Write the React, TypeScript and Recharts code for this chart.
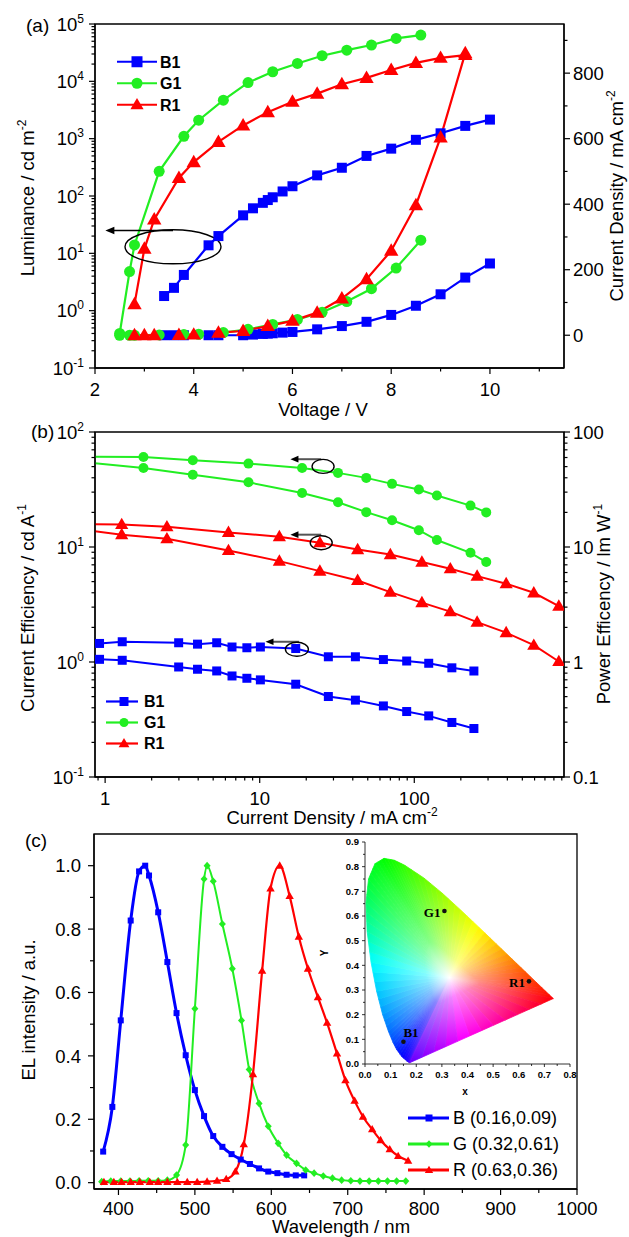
import React from 'react';
import {
  ComposedChart, ScatterChart, Line, Scatter, XAxis, YAxis,
  ReferenceLine, ReferenceDot, ReferenceArea, Legend, Label,
} from 'recharts';

const FONT = '"Liberation Sans", Arial, sans-serif';
const SERIF = '"Liberation Serif", "Times New Roman", serif';
const W = 629;
const BLUE = '#0000ff';
const GREEN = '#22ee22';
const RED = '#ff0000';
const AXIS = { stroke: '#000', strokeWidth: 1.3 };

// ---------- (a) luminance (cd m-2) and current density (mA cm-2) vs voltage ----------
const B1_V = [3.4, 3.6, 3.8, 4.3, 4.5, 5.0, 5.2, 5.4, 5.5, 5.6, 5.8, 6.0, 6.5, 7.0, 7.5, 8.0, 8.5, 9.0, 9.5, 10.0];
const B1_LUM = [1.8, 2.5, 4.2, 13.8, 20, 46, 61, 76, 85, 95, 120, 148, 229, 311, 500, 670, 955, 1240, 1670, 2150];
const B1_J = [0, 0, 0, 0, 0, 0, 2, 4, 5, 6, 8, 10, 18, 28, 41, 62, 90, 125, 176, 219];

const G1_V = [2.5, 2.7, 2.8, 3.3, 3.8, 4.1, 4.6, 5.1, 5.6, 6.1, 6.6, 7.1, 7.6, 8.1, 8.6];
const G1_LUM = [0.4, 4.8, 14, 269, 1100, 2100, 4700, 9500, 14700, 20500, 28000, 35000, 43000, 56000, 64000];
const G1_J = [0, 0, 0, 1, 2, 3, 8, 18, 33, 48, 70, 103, 142, 205, 290];

const R1_V = [2.8, 3.0, 3.2, 3.7, 4.0, 4.5, 5.0, 5.5, 6.0, 6.5, 7.0, 7.5, 8.0, 8.5, 9.0, 9.5];
const R1_LUM = [1.3, 12, 39, 206, 390, 880, 1700, 2900, 4400, 6100, 8900, 11500, 15800, 21000, 25700, 28700];
const R1_J = [0, 0, 0, 1, 2, 8, 13, 28, 44, 69, 112, 171, 258, 397, 604, 861];

const A_V_TICKS = [2, 4, 6, 8, 10];
const A_V_MINOR = [3, 5, 7, 9, 11];
const A_LUM_TICKS = [0.1, 1, 10, 100, 1000, 10000, 100000];
const A_J_TICKS = [0, 200, 400, 600, 800];
const A_J_MINOR = [100, 300, 500, 700, 900];

// ---------- (b) efficiencies vs current density ----------
const G1_EFF_J = [0.7, 1.77, 3.69, 8.46, 18.8, 32.1, 48.9, 71.8, 107, 140, 231, 292];
const G1_CE = [61, 60.7, 56.7, 53.1, 48.7, 44.1, 39.9, 35.4, 31.6, 28.0, 22.9, 20.0];
const G1_PE = [55, 48.6, 42.5, 36.5, 29.5, 24.5, 20.1, 17.1, 14.0, 11.5, 8.9, 7.4];

const R1_EFF_J = [0.7, 1.28, 2.51, 6.28, 13.4, 24.5, 43, 70, 112, 171, 255, 393, 593, 861];
const R1_CE = [15.8, 15.7, 15.0, 13.4, 12.3, 10.9, 9.5, 8.6, 7.4, 6.47, 5.58, 4.8, 4.0, 3.06];
const R1_PE = [14.2, 12.8, 11.8, 9.33, 7.54, 6.17, 5.12, 4.05, 3.28, 2.74, 2.22, 1.8, 1.4, 1.01];

const B1_EFF_J = [0.92, 1.29, 2.99, 3.96, 5.27, 6.62, 8.26, 10.1, 17.1, 27.8, 41.6, 63.1, 89.3, 124, 175, 243];
const B1_CE = [1.45, 1.5, 1.47, 1.43, 1.47, 1.35, 1.33, 1.35, 1.31, 1.11, 1.11, 1.05, 1.02, 0.975, 0.89, 0.835];
const B1_PE = [1.055, 1.035, 0.905, 0.865, 0.836, 0.756, 0.722, 0.699, 0.641, 0.501, 0.466, 0.415, 0.371, 0.34, 0.298, 0.264];

const B_J_TICKS = [1, 10, 100];
const B_EFF_TICKS = [0.1, 1, 10, 100];

// ---------- (c) EL spectra ----------
const B_WL = [380, 392, 403, 416, 427, 435, 440, 452, 464, 476, 488, 500, 512, 524, 536, 548, 560, 572, 584, 596, 608, 620, 632, 643];
const B_EL = [0.098, 0.239, 0.512, 0.827, 0.982, 1.0, 0.969, 0.853, 0.696, 0.535, 0.402, 0.292, 0.21, 0.147, 0.113, 0.09, 0.073, 0.059, 0.045, 0.035, 0.03, 0.025, 0.023, 0.023];
const G_WL = [378, 390, 403, 415, 427, 439, 452, 464, 476, 488, 500, 512, 516, 524, 536, 549, 561, 571, 584, 596, 609, 620, 633, 645, 656, 668, 680, 692, 704, 716, 728, 740, 752, 764, 776];
const G_EL = [0.003, 0.005, 0.005, 0.005, 0.006, 0.006, 0.006, 0.008, 0.024, 0.119, 0.549, 0.958, 1.0, 0.951, 0.816, 0.675, 0.512, 0.357, 0.25, 0.178, 0.124, 0.087, 0.061, 0.04, 0.03, 0.021, 0.014, 0.008, 0.006, 0.005, 0.005, 0.005, 0.005, 0.005, 0.005];
const R_WL = [381, 394, 404, 416, 428, 441, 452, 464, 477, 490, 503, 516, 529, 541, 553, 564, 576, 588, 599, 611, 624, 636, 648, 661, 673, 686, 697, 709, 720, 732, 743, 755, 766, 779];
const R_EL = [0.002, 0.002, 0.002, 0.002, 0.002, 0.002, 0.002, 0.002, 0.002, 0.002, 0.002, 0.003, 0.006, 0.011, 0.035, 0.121, 0.342, 0.668, 0.928, 1.0, 0.904, 0.776, 0.675, 0.585, 0.504, 0.407, 0.323, 0.258, 0.208, 0.168, 0.134, 0.105, 0.084, 0.069];

const C_WL_TICKS = [400, 500, 600, 700, 800, 900, 1000];
const C_WL_MINOR = [450, 550, 650, 750, 850, 950];
const C_EL_TICKS = [0, 0.2, 0.4, 0.6, 0.8, 1.0];
const C_EL_MINOR = [0.1, 0.3, 0.5, 0.7, 0.9];

// CIE 1931 spectral locus (inset)
const CIE_NM = [380, 440, 460, 470, 475, 480, 485, 490, 495, 500, 505, 510, 515, 520, 525, 530, 540, 550, 560, 570, 580, 590, 600, 620, 700];
const CIE_X = [0.1741, 0.1644, 0.144, 0.1241, 0.1096, 0.0913, 0.0687, 0.0454, 0.0235, 0.0082, 0.0039, 0.0139, 0.0389, 0.0743, 0.1142, 0.1547, 0.2296, 0.3016, 0.3731, 0.4441, 0.5125, 0.5752, 0.627, 0.6915, 0.7347];
const CIE_Y = [0.005, 0.0109, 0.0297, 0.0578, 0.0868, 0.1327, 0.2007, 0.295, 0.4127, 0.5384, 0.6548, 0.7502, 0.812, 0.8338, 0.8262, 0.8059, 0.7543, 0.6923, 0.6245, 0.5547, 0.4866, 0.4242, 0.3725, 0.3083, 0.2653];
const CIE_WHITE = { x: 0.33, y: 0.35 };
const CIE_DEVICES = [
  { name: 'B1', x: 0.15, y: 0.09 },
  { name: 'G1', x: 0.31, y: 0.62 },
  { name: 'R1', x: 0.64, y: 0.335 },
];
const CIE_X_TICKS = [0, 0.1, 0.2, 0.3, 0.4, 0.5, 0.6, 0.7, 0.8];
const CIE_Y_TICKS = [0, 0.1, 0.2, 0.3, 0.4, 0.5, 0.6, 0.7, 0.8, 0.9];

// hue used to paint the locus, by wavelength (style only)
const HUE_STOPS: [number, number][] = [
  [380, 262], [440, 248], [460, 240], [470, 232], [480, 214], [485, 204], [490, 192], [495, 180], [500, 160],
  [505, 144], [510, 132], [520, 120], [530, 108], [540, 96], [550, 84], [560, 72], [570, 60],
  [580, 46], [590, 32], [600, 20], [620, 8], [700, 0],
];

type Pt = { x: number; y: number };
const zip = (xs: number[], ys: number[]): Pt[] => xs.map((x, i) => ({ x, y: ys[i] }));

const logMinors = (majors: number[], lo: number, hi: number) => {
  const out: number[] = [];
  [majors[0] / 10, ...majors].forEach((m) => {
    for (let k = 2; k <= 9; k++) {
      const v = +(m * k).toPrecision(6);
      if (v > lo && v < hi) out.push(v);
    }
  });
  return out;
};
const sortNum = (a: number[]) => [...a].sort((p, q) => p - q);

function hueAt(nm: number) {
  for (let i = 0; i < HUE_STOPS.length - 1; i++) {
    const [a, ha] = HUE_STOPS[i];
    const [b, hb] = HUE_STOPS[i + 1];
    if (nm >= a && nm <= b) return ha + ((hb - ha) * (nm - a)) / (b - a);
  }
  return 0;
}
// circular mean of two hues
const midHue = (a: number, b: number) => {
  const d = ((((b - a) % 360) + 540) % 360) - 180;
  return (((a + d / 2) % 360) + 360) % 360;
};

// ---------- markers ----------
type Kind = 'square' | 'circle' | 'triangle' | 'diamond';
function Marker({ kind, cx, cy, s, color }: { kind: Kind; cx: number; cy: number; s: number; color: string }) {
  if (cx == null || cy == null || isNaN(cx) || isNaN(cy)) return <g />;
  const h = s / 2;
  if (kind === 'square') return <rect x={cx - h} y={cy - h} width={s} height={s} fill={color} />;
  if (kind === 'circle') return <circle cx={cx} cy={cy} r={h} fill={color} />;
  if (kind === 'triangle')
    return <polygon points={`${cx},${cy - s * 0.62} ${cx + s * 0.6},${cy + s * 0.42} ${cx - s * 0.6},${cy + s * 0.42}`} fill={color} />;
  return <polygon points={`${cx},${cy - h * 1.1} ${cx + h},${cy} ${cx},${cy + h * 1.1} ${cx - h},${cy}`} fill={color} />;
}
const dotFn = (kind: Kind, s: number, color: string) => (p: any) =>
  <Marker key={`d${p.index}`} kind={kind} cx={p.cx} cy={p.cy} s={s} color={color} />;

// ---------- ticks (line + label drawn together so minors can be shorter) ----------
type Side = 'left' | 'right' | 'bottom';
type TickOpts = { gap: number; major?: number; minor?: number; font?: number; bold?: boolean; sw?: number };

function makeTick(side: Side, majors: number[], label: (v: number) => React.ReactNode, o: TickOpts) {
  const { gap, major = 6, minor = 3.5, font = 18.5, bold = false, sw = 1.2 } = o;
  return (p: any) => {
    const x = Number(p.x);
    const y = Number(p.y);
    const v = Number(p.payload?.value);
    const isMajor = majors.some((m) => Math.abs(m - v) <= Math.abs(m) * 1e-6 + 1e-9);
    const len = isMajor ? major : minor;
    const txt = { fontFamily: FONT, fontSize: font, fontWeight: bold ? 700 : 400, fill: '#000' };
    if (side === 'left')
      return (
        <g>
          <line x1={x} x2={x - len} y1={y} y2={y} stroke="#000" strokeWidth={sw} />
          {isMajor && <text x={x - gap} y={y} dy="0.36em" textAnchor="end" {...txt}>{label(v)}</text>}
        </g>
      );
    if (side === 'right')
      return (
        <g>
          <line x1={x} x2={x + len} y1={y} y2={y} stroke="#000" strokeWidth={sw} />
          {isMajor && <text x={x + gap} y={y} dy="0.36em" textAnchor="start" {...txt}>{label(v)}</text>}
        </g>
      );
    return (
      <g>
        <line x1={x} x2={x} y1={y} y2={y + len} stroke="#000" strokeWidth={sw} />
        {isMajor && <text x={x} y={y + gap} dy="0.36em" textAnchor="middle" {...txt}>{label(v)}</text>}
      </g>
    );
  };
}

const pow10 = (v: number) => (
  <>
    10<tspan dy={-8} fontSize={12}>{Math.round(Math.log10(v))}</tspan>
  </>
);
const plain = (v: number) => String(v);

function Title({ x, y, text, sup, rotate, size = 18.5 }: { x: number; y: number; text: string; sup?: string; rotate?: boolean; size?: number }) {
  return (
    <text
      x={x} y={y} dy="0.35em" textAnchor="middle" fontFamily={FONT} fontSize={size} fill="#000"
      transform={rotate ? `rotate(-90 ${x} ${y})` : undefined}
    >
      {text}
      {sup && <tspan dy={-8} fontSize={12}>{sup}</tspan>}
    </text>
  );
}

type LegItem = { name: string; color: string; kind: Kind };
function LegendBox({ items, rowH, lineW, s, font, bold, sw, textGap, markAt }: {
  items: LegItem[]; rowH: number; lineW: number; s: number; font: number; bold: boolean; sw: number; textGap: number; markAt: number;
}) {
  return (
    <svg width={220} height={rowH * items.length} style={{ display: 'block', overflow: 'visible' }}>
      {items.map((it, i) => {
        const cy = rowH * i + rowH / 2;
        return (
          <g key={it.name}>
            <line x1={0} x2={lineW} y1={cy} y2={cy} stroke={it.color} strokeWidth={sw} />
            <Marker kind={it.kind} cx={markAt} cy={cy} s={s} color={it.color} />
            <text x={lineW + textGap} y={cy} dy="0.36em" fontFamily={FONT} fontSize={font} fontWeight={bold ? 700 : 400} fill="#000">
              {it.name}
            </text>
          </g>
        );
      })}
    </svg>
  );
}

const arrowShape = (color: string, w: number, head: number) => (p: any) => {
  const x1 = Number(p.x1), y1 = Number(p.y1), x2 = Number(p.x2), y2 = Number(p.y2);
  const dir = Math.sign(x2 - x1) || -1;
  return (
    <g>
      <line x1={x1} y1={y1} x2={x2 - dir * head * 0.7} y2={y2} stroke={color} strokeWidth={w} />
      <polygon points={`${x2},${y2} ${x2 - dir * head},${y2 - head * 0.42} ${x2 - dir * head},${y2 + head * 0.42}`} fill="#000" />
    </g>
  );
};
const ellipseShape = (rx: number, ry: number) => (p: any) =>
  <ellipse cx={p.cx} cy={p.cy} rx={rx} ry={ry} fill="none" stroke="#000" strokeWidth={1.4} />;

// ================= panel (a) =================
const A_SERIES = [
  { key: 'B1L', axis: 'lum', data: zip(B1_V, B1_LUM), color: BLUE, kind: 'square' as Kind, s: 10 },
  { key: 'G1L', axis: 'lum', data: zip(G1_V, G1_LUM), color: GREEN, kind: 'circle' as Kind, s: 11 },
  { key: 'R1L', axis: 'lum', data: zip(R1_V, R1_LUM), color: RED, kind: 'triangle' as Kind, s: 12 },
  { key: 'B1J', axis: 'j', data: zip(B1_V, B1_J), color: BLUE, kind: 'square' as Kind, s: 10 },
  { key: 'G1J', axis: 'j', data: zip(G1_V, G1_J), color: GREEN, kind: 'circle' as Kind, s: 11 },
  { key: 'R1J', axis: 'j', data: zip(R1_V, R1_J), color: RED, kind: 'triangle' as Kind, s: 12 },
];
const LEG_ITEMS: LegItem[] = [
  { name: 'B1', color: BLUE, kind: 'square' },
  { name: 'G1', color: GREEN, kind: 'circle' },
  { name: 'R1', color: RED, kind: 'triangle' },
];

function PanelA() {
  const lumTicks = sortNum([...A_LUM_TICKS, ...logMinors(A_LUM_TICKS, 0.1, 1e5)]);
  return (
    <ComposedChart width={W} height={420} margin={{ top: 24, right: 0, bottom: 0, left: 0 }}>
      <XAxis
        type="number" dataKey="x" domain={[2, 11.5]} allowDataOverflow height={52}
        ticks={sortNum([...A_V_TICKS, ...A_V_MINOR])} interval={0} tickSize={0} tickMargin={0} tickLine={false} axisLine={AXIS}
        tick={makeTick('bottom', A_V_TICKS, plain, { gap: 21 })}
      >
        <Label content={() => <Title x={323} y={410} text="Voltage / V" />} />
      </XAxis>
      <YAxis
        yAxisId="lum" type="number" scale="log" domain={[0.1, 1e5]} allowDataOverflow width={95}
        ticks={lumTicks} interval={0} tickSize={0} tickMargin={0} tickLine={false} axisLine={AXIS}
        tick={makeTick('left', A_LUM_TICKS, pow10, { gap: 11 })}
      >
        <Label content={() => <Title x={28} y={198} text="Luminance / cd m" sup="-2" rotate />} />
      </YAxis>
      <YAxis
        yAxisId="j" orientation="right" type="number" domain={[-100, 950]} allowDataOverflow width={65}
        ticks={sortNum([...A_J_TICKS, ...A_J_MINOR])} interval={0} tickSize={0} tickMargin={0} tickLine={false} axisLine={AXIS}
        tick={makeTick('right', A_J_TICKS, plain, { gap: 9 })}
      >
        <Label content={() => <Title x={617} y={196} text="Current Density / mA cm" sup="-2" rotate />} />
      </YAxis>
      <ReferenceArea yAxisId="lum" x1={2} x2={11.5} y1={0.1} y2={1e5} fill="none" stroke="#000" strokeWidth={1.3} ifOverflow="visible" />
      {A_SERIES.map((s) => (
        <Line
          key={s.key} yAxisId={s.axis} data={s.data} dataKey="y" type="linear" stroke={s.color} strokeWidth={2.2}
          dot={dotFn(s.kind, s.s, s.color)} activeDot={false} isAnimationActive={false}
        />
      ))}
      <ReferenceLine yAxisId="lum" segment={[{ x: 3.58, y: 25 }, { x: 2.21, y: 25 }]} shape={arrowShape('#000', 1.6, 9)} />
      <ReferenceDot yAxisId="lum" x={3.58} y={13} r={2} shape={ellipseShape(48, 17)} />
      <Legend
        layout="vertical" align="center" verticalAlign="middle"
        wrapperStyle={{ left: 117, top: 51, width: 120, height: 66 }}
        content={() => <LegendBox items={LEG_ITEMS} rowH={21.5} lineW={40} markAt={20} s={11} font={16} bold sw={2.2} textGap={3} />}
      />
    </ComposedChart>
  );
}

// ================= panel (b) =================
const B_SERIES = [
  { key: 'G1CE', axis: 'ce', data: zip(G1_EFF_J, G1_CE), color: GREEN, kind: 'circle' as Kind, s: 10 },
  { key: 'G1PE', axis: 'pe', data: zip(G1_EFF_J, G1_PE), color: GREEN, kind: 'circle' as Kind, s: 10 },
  { key: 'R1CE', axis: 'ce', data: zip(R1_EFF_J, R1_CE), color: RED, kind: 'triangle' as Kind, s: 11 },
  { key: 'R1PE', axis: 'pe', data: zip(R1_EFF_J, R1_PE), color: RED, kind: 'triangle' as Kind, s: 11 },
  { key: 'B1CE', axis: 'ce', data: zip(B1_EFF_J, B1_CE), color: BLUE, kind: 'square' as Kind, s: 9 },
  { key: 'B1PE', axis: 'pe', data: zip(B1_EFF_J, B1_PE), color: BLUE, kind: 'square' as Kind, s: 9 },
];

function PanelB() {
  const xTicks = sortNum([...B_J_TICKS, ...logMinors(B_J_TICKS, 0.86, 930)]);
  const yTicks = sortNum([...B_EFF_TICKS, ...logMinors(B_EFF_TICKS, 0.1, 100)]);
  return (
    <ComposedChart width={W} height={420} margin={{ top: 24, right: 0, bottom: 0, left: 0 }}>
      <XAxis
        type="number" dataKey="x" scale="log" domain={[0.86, 930]} allowDataOverflow height={51}
        ticks={xTicks} interval={0} tickSize={0} tickMargin={0} tickLine={false} axisLine={AXIS}
        tick={makeTick('bottom', B_J_TICKS, plain, { gap: 21 })}
      >
        <Label content={() => <Title x={332} y={410} text="Current Density / mA cm" sup="-2" />} />
      </XAxis>
      <YAxis
        yAxisId="ce" type="number" scale="log" domain={[0.1, 100]} allowDataOverflow width={95}
        ticks={yTicks} interval={0} tickSize={0} tickMargin={0} tickLine={false} axisLine={AXIS}
        tick={makeTick('left', B_EFF_TICKS, pow10, { gap: 11 })}
      >
        <Label content={() => <Title x={28} y={200} text="Current Efficiency / cd A" sup="-1" rotate />} />
      </YAxis>
      <YAxis
        yAxisId="pe" orientation="right" type="number" scale="log" domain={[0.1, 100]} allowDataOverflow width={65}
        ticks={yTicks} interval={0} tickSize={0} tickMargin={0} tickLine={false} axisLine={AXIS}
        tick={makeTick('right', B_EFF_TICKS, plain, { gap: 9 })}
      >
        <Label content={() => <Title x={604} y={196} text="Power Efficency / lm W" sup="-1" rotate />} />
      </YAxis>
      <ReferenceArea yAxisId="ce" x1={0.86} x2={930} y1={0.1} y2={100} fill="none" stroke="#000" strokeWidth={1.3} ifOverflow="visible" />
      {B_SERIES.map((s) => (
        <Line
          key={s.key} yAxisId={s.axis} data={s.data} dataKey="y" type="linear" stroke={s.color} strokeWidth={2}
          dot={dotFn(s.kind, s.s, s.color)} activeDot={false} isAnimationActive={false}
        />
      ))}
      <ReferenceLine yAxisId="ce" segment={[{ x: 25, y: 58 }, { x: 15.8, y: 58 }]} shape={arrowShape('#555', 2, 8)} />
      <ReferenceDot yAxisId="ce" x={25.7} y={50.2} r={2} shape={ellipseShape(11, 7)} />
      <ReferenceLine yAxisId="ce" segment={[{ x: 25, y: 12.8 }, { x: 15.8, y: 12.8 }]} shape={arrowShape('#555', 2, 8)} />
      <ReferenceDot yAxisId="ce" x={25} y={10.9} r={2} shape={ellipseShape(11, 7)} />
      <ReferenceLine yAxisId="ce" segment={[{ x: 18, y: 1.5 }, { x: 10.9, y: 1.5 }]} shape={arrowShape('#555', 2, 8)} />
      <ReferenceDot yAxisId="ce" x={17.4} y={1.29} r={2} shape={ellipseShape(11.5, 7)} />
      <Legend
        layout="vertical" align="center" verticalAlign="middle"
        wrapperStyle={{ left: 106, top: 283, width: 120, height: 64 }}
        content={() => <LegendBox items={LEG_ITEMS} rowH={21} lineW={32} markAt={18} s={9} font={16} bold sw={2.2} textGap={6} />}
      />
    </ComposedChart>
  );
}

// ================= panel (c) =================
const C_SERIES = [
  { key: 'B', name: 'B (0.16,0.09)', data: zip(B_WL, B_EL), color: BLUE, kind: 'square' as Kind, s: 6, w: 3 },
  { key: 'G', name: 'G (0.32,0.61)', data: zip(G_WL, G_EL), color: GREEN, kind: 'diamond' as Kind, s: 7, w: 2 },
  { key: 'R', name: 'R (0.63,0.36)', data: zip(R_WL, R_EL), color: RED, kind: 'triangle' as Kind, s: 7, w: 2.2 },
];

function PanelC() {
  return (
    <ComposedChart width={W} height={427} margin={{ top: 24, right: 52, bottom: 0, left: 0 }}>
      <XAxis
        type="number" dataKey="x" domain={[368, 1000]} allowDataOverflow height={48}
        ticks={sortNum([...C_WL_TICKS, ...C_WL_MINOR])} interval={0} tickSize={0} tickMargin={0} tickLine={false} axisLine={AXIS}
        tick={makeTick('bottom', C_WL_TICKS, plain, { gap: 19, major: 6, minor: 4 })}
      >
        <Label content={() => <Title x={341} y={417} text="Wavelength / nm" />} />
      </XAxis>
      <YAxis
        type="number" domain={[-0.02, 1.1]} allowDataOverflow width={94}
        ticks={sortNum([...C_EL_TICKS, ...C_EL_MINOR])} interval={0} tickSize={0} tickMargin={0} tickLine={false} axisLine={AXIS}
        tick={makeTick('left', C_EL_TICKS, (v) => v.toFixed(1), { gap: 13, major: 6, minor: 4 })}
      >
        <Label content={() => <Title x={29} y={200} text="EL intensity / a.u." rotate />} />
      </YAxis>
      <ReferenceArea x1={368} x2={1000} y1={-0.02} y2={1.1} fill="none" stroke="#000" strokeWidth={1.3} ifOverflow="visible" />
      {C_SERIES.map((s) => (
        <Line
          key={s.key} data={s.data} dataKey="y" type="monotone" stroke={s.color} strokeWidth={s.w}
          dot={dotFn(s.kind, s.s, s.color)} activeDot={false} isAnimationActive={false}
        />
      ))}
      <Legend
        layout="vertical" align="center" verticalAlign="middle"
        wrapperStyle={{ left: 408, top: 295, width: 180, height: 78 }}
        content={() => (
          <LegendBox
            items={C_SERIES.map((s) => ({ name: s.name, color: s.color, kind: s.kind }))}
            rowH={26} lineW={41} markAt={21} s={7} font={18} bold={false} sw={3} textGap={4}
          />
        )}
      />
    </ComposedChart>
  );
}

// ================= CIE inset =================
function CieFan({ points }: { points: Pt[] }) {
  if (!points || points.length < 4) return <g />;
  const w = points[0];
  const edge = points.slice(1);
  const ring: { x: number; y: number; h: number }[] = [];
  for (let i = 0; i < edge.length - 1; i++) {
    const a = edge[i], b = edge[i + 1];
    const ha = hueAt(CIE_NM[i]), hb = hueAt(CIE_NM[i + 1]);
    for (let k = 0; k < 3; k++) {
      const t = k / 3;
      ring.push({ x: a.x + (b.x - a.x) * t, y: a.y + (b.y - a.y) * t, h: ha + (hb - ha) * t });
    }
  }
  // line of purples: red (0) -> magenta (-60) -> violet (start hue - 360)
  const last = edge[edge.length - 1], first = edge[0];
  const hEnd = 0, hStart = hueAt(CIE_NM[0]) - 360;
  const N = 12;
  for (let k = 0; k < N; k++) {
    const t = k / N;
    ring.push({ x: last.x + (first.x - last.x) * t, y: last.y + (first.y - last.y) * t, h: hEnd + (hStart - hEnd) * t });
  }
  const tris = ring.map((a, i) => {
    const b = ring[(i + 1) % ring.length];
    return { a, b, mx: (a.x + b.x) / 2, my: (a.y + b.y) / 2, h: midHue(a.h, b.h) };
  });
  return (
    <g>
      <defs>
        {tris.map((t, i) => (
          <linearGradient key={i} id={`cieg${i}`} gradientUnits="userSpaceOnUse" x1={w.x} y1={w.y} x2={t.mx} y2={t.my}>
            <stop offset="0" stopColor="#ffffff" />
            <stop offset="0.3" stopColor={`hsl(${t.h.toFixed(1)},100%,76%)`} />
            <stop offset="1" stopColor={`hsl(${t.h.toFixed(1)},100%,50%)`} />
          </linearGradient>
        ))}
      </defs>
      {tris.map((t, i) => (
        <polygon
          key={i}
          points={`${w.x},${w.y} ${t.a.x},${t.a.y} ${t.b.x},${t.b.y}`}
          fill={`url(#cieg${i})`} stroke={`url(#cieg${i})`} strokeWidth={0.8}
        />
      ))}
    </g>
  );
}

const DEVICE_LABEL_SIDE: Record<string, 'left' | 'above'> = { B1: 'above', G1: 'left', R1: 'left' };
const deviceShape = (p: any) => {
  const cx = Number(p.cx), cy = Number(p.cy);
  const name = p.payload?.name as string;
  const left = DEVICE_LABEL_SIDE[name] === 'left';
  return (
    <g>
      <circle cx={cx} cy={cy} r={2.3} fill="#111" />
      <text
        x={left ? cx - 4 : cx} y={left ? cy + 1 : cy - 5} dy={left ? '0.36em' : 0}
        textAnchor={left ? 'end' : 'start'} fontFamily={SERIF} fontSize={13} fontWeight={700} fill="#000"
      >
        {name}
      </text>
    </g>
  );
};

function CieInset() {
  const cieData = [CIE_WHITE, ...zip(CIE_X, CIE_Y)];
  const minorX = [0.05, 0.15, 0.25, 0.35, 0.45, 0.55, 0.65, 0.75];
  const minorY = [0.05, 0.15, 0.25, 0.35, 0.45, 0.55, 0.65, 0.75, 0.85];
  const f1 = (v: number) => v.toFixed(1);
  return (
    <ScatterChart width={290} height={280} margin={{ top: 12, right: 20, bottom: 0, left: 0 }}>
      <XAxis
        type="number" dataKey="x" domain={[0, 0.8]} allowDataOverflow height={46}
        ticks={sortNum([...CIE_X_TICKS, ...minorX])} interval={0} tickSize={0} tickMargin={0} tickLine={false}
        axisLine={{ stroke: '#333', strokeWidth: 1 }}
        tick={makeTick('bottom', CIE_X_TICKS, f1, { gap: 11, major: 3, minor: 2, font: 9.5, bold: true, sw: 0.8 })}
      >
        <Label content={() => <text x={165} y={265} textAnchor="middle" fontFamily={FONT} fontSize={10} fontWeight={700}>x</text>} />
      </XAxis>
      <YAxis
        type="number" dataKey="y" domain={[0, 0.9]} allowDataOverflow width={65}
        ticks={sortNum([...CIE_Y_TICKS, ...minorY])} interval={0} tickSize={0} tickMargin={0} tickLine={false}
        axisLine={{ stroke: '#333', strokeWidth: 1 }}
        tick={makeTick('left', CIE_Y_TICKS, f1, { gap: 6, major: 3, minor: 2, font: 9.5, bold: true, sw: 0.8 })}
      >
        <Label content={() => <text x={24} y={123} dy="0.35em" textAnchor="middle" fontFamily={FONT} fontSize={10} fontWeight={700} transform="rotate(-90 24 123)">Y</text>} />
      </YAxis>
      <Scatter data={cieData} line={(p: any) => <CieFan points={p.points} />} shape={() => <g />} isAnimationActive={false} />
      <Scatter data={CIE_DEVICES} shape={deviceShape} isAnimationActive={false} />
    </ScatterChart>
  );
}

const panelLabel = (text: string, left: number, top: number) => (
  <div style={{ position: 'absolute', left, top, fontFamily: FONT, fontSize: 19, lineHeight: '22px', color: '#000' }}>{text}</div>
);

export default function App() {
  return (
    <div style={{ position: 'absolute', left: 0, top: 0, width: W, height: 1237, background: '#fff', overflow: 'hidden' }}>
      <div style={{ position: 'absolute', left: 0, top: 0 }}><PanelA /></div>
      <div style={{ position: 'absolute', left: 0, top: 408 }}><PanelB /></div>
      <div style={{ position: 'absolute', left: 0, top: 810 }}><PanelC /></div>
      <div style={{ position: 'absolute', left: 300, top: 830 }}><CieInset /></div>
      {panelLabel('(a)', 26, 15)}
      {panelLabel('(b)', 31, 421)}
      {panelLabel('(c)', 25, 830)}
    </div>
  );
}
